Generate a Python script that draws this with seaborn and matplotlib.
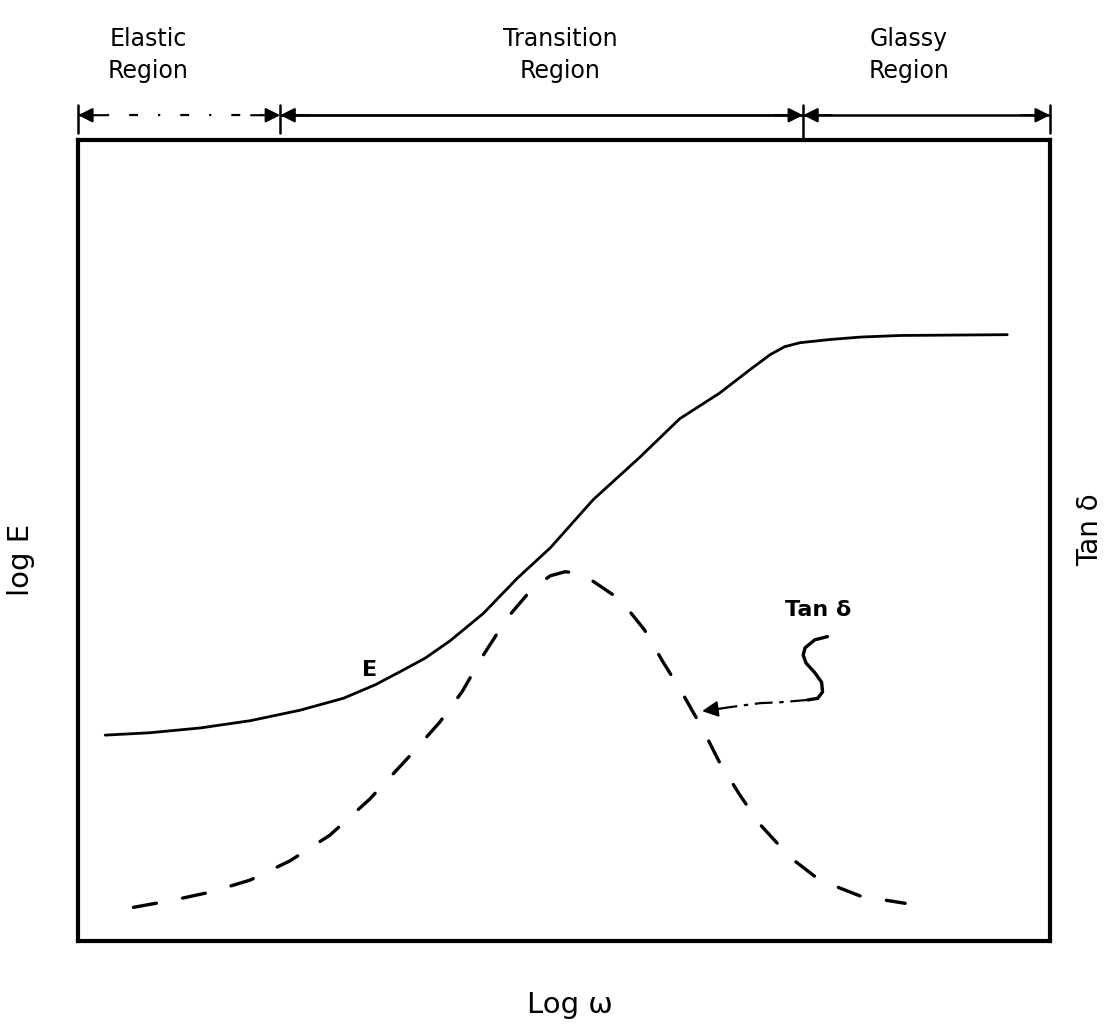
import matplotlib
matplotlib.use('Agg')
import matplotlib.pyplot as plt
import seaborn as sns

sns.set_theme(style='white')
plt.rcParams['font.family'] = ['DejaVu Sans']

# ---- data (schematic units: x = log w, y = arbitrary 0..10) ----
e_x = [0.28, 0.74, 1.26, 1.77, 2.28, 2.73, 3.06, 3.31, 3.57, 3.83, 4.17, 4.52,
       4.86, 5.30, 5.78, 6.19, 6.60, 6.91, 7.12, 7.27, 7.43, 7.74, 8.05, 8.46,
       9.56]
e_y = [2.57, 2.60, 2.66, 2.75, 2.88, 3.03, 3.20, 3.36, 3.53, 3.75, 4.09, 4.53,
       4.91, 5.51, 6.04, 6.52, 6.84, 7.13, 7.32, 7.42, 7.47, 7.51, 7.54, 7.56,
       7.57]

tan_x = [0.57, 0.98, 1.36, 1.77, 2.18, 2.59, 3.00, 3.42, 3.72, 3.95, 4.17, 4.42,
         4.68, 4.86, 5.01, 5.16, 5.30, 5.58, 5.83, 6.02, 6.21, 6.42, 6.60, 6.81,
         7.02, 7.33, 7.63, 8.05, 8.51]
tan_y = [0.42, 0.51, 0.61, 0.76, 1.00, 1.32, 1.77, 2.32, 2.73, 3.11, 3.57, 4.04,
         4.41, 4.56, 4.61, 4.59, 4.49, 4.26, 3.88, 3.48, 3.11, 2.66, 2.23, 1.82,
         1.45, 1.04, 0.76, 0.56, 0.47]

region_labels = ["Elastic\nRegion", "Transition\nRegion", "Glassy\nRegion"]
region_label_x = [0.72, 4.96, 8.55]
region_bounds = [0.0, 2.08, 7.46, 10.0]

# S-shaped pointer to the tan delta curve
s_x = [7.71, 7.58, 7.48, 7.46, 7.49, 7.58, 7.65, 7.66, 7.61, 7.51]
s_y = [3.80, 3.76, 3.66, 3.57, 3.47, 3.35, 3.23, 3.11, 3.03, 3.01]
tail_x = [7.51, 7.22, 7.02, 6.71, 6.60]
tail_y = [3.01, 2.98, 2.97, 2.92, 2.90]
tip = (6.42, 2.87)

fig = plt.figure(figsize=(11.18, 10.32), dpi=100)
ax = fig.add_axes([0.0698, 0.0882, 0.8694, 0.7761])

sns.lineplot(x=e_x, y=e_y, ax=ax, color='black', lw=2.0, sort=False,
             estimator=None)
sns.lineplot(x=tan_x, y=tan_y, ax=ax, color='black', lw=2.4, sort=False,
             estimator=None, linestyle=(0, (7, 8)), dash_capstyle='round')

ax.set_xlim(0, 10)
ax.set_ylim(0, 10)
ax.set_xticks([])
ax.set_yticks([])
ax.set_xlabel('')
ax.set_ylabel('')
for s in ax.spines.values():
    s.set_visible(True)
    s.set_color('black')
    s.set_linewidth(3.0)

# ---- region bracket above the plot ----
yb = 10.31
seg_styles = [(0, (4, 9, 1, 9)), '-', '-']
seg_lw = [1.6, 2.0, 1.8]
for i in range(3):
    x0, x1 = region_bounds[i], region_bounds[i + 1]
    ax.plot([x0, x1], [yb, yb], color='black', lw=seg_lw[i],
            linestyle=seg_styles[i], clip_on=False, solid_capstyle='butt')
    for tipx, fromx in ((x0, x0 + 0.3), (x1, x1 - 0.3)):
        ax.annotate('', xy=(tipx, yb), xytext=(fromx, yb),
                    arrowprops=dict(arrowstyle='-|>', color='black', lw=1.5,
                                    mutation_scale=22, shrinkA=0, shrinkB=0),
                    annotation_clip=False)
    ax.text(region_label_x[i], 11.06, region_labels[i], ha='center',
            va='center', fontsize=17, linespacing=1.45, color='black')

for i, bx in enumerate(region_bounds):
    y_low = 10.0 if i == 2 else 10.09
    ax.plot([bx, bx], [y_low, 10.44], color='black', lw=1.8, clip_on=False)

# ---- labels ----
ax.text(-0.59, 4.76, 'log E', rotation=90, ha='center', va='center',
        fontsize=21, color='black')
ax.text(10.41, 5.13, 'Tan δ', rotation=90, ha='center', va='center',
        fontsize=20, color='black')
ax.text(5.06, -0.80, 'Log ω', ha='center', va='center', fontsize=21,
        color='black')
ax.text(3.00, 3.38, 'E', ha='center', va='center', fontsize=16,
        fontweight='bold', color='black')
ax.text(7.61, 4.13, 'Tan δ', ha='center', va='center', fontsize=16,
        fontweight='bold', color='black')

ax.plot(s_x, s_y, color='black', lw=2.4, clip_on=False,
        solid_capstyle='round')
ax.plot(tail_x, tail_y, color='black', lw=1.6, linestyle=(0, (8, 3, 2, 3)))
ax.annotate('', xy=tip, xytext=(tail_x[-1], tail_y[-1]),
            arrowprops=dict(arrowstyle='-|>', color='black', lw=1.5,
                            mutation_scale=24, shrinkA=0, shrinkB=0))

fig.savefig('out.png', dpi=100, facecolor='white')
